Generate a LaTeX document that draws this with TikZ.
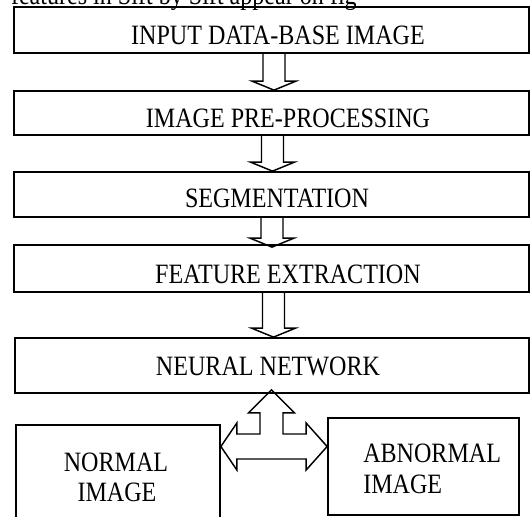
\documentclass[tikz,border=0pt]{standalone}
\usepackage{fontspec}
\setmainfont{Liberation Serif}[FakeStretch=0.86]
\usetikzlibrary{calc}
\newcommand\blockdown[4]{% #1 upper node, #2 lower node, #3 x coordinate, #4 tip offset below lower.north
  \draw[barrow] ($(#3|-#1.south)+(-11,0)$) -- ($(#3|-#2.north)+(-11,#4-9)$) -- ++(-11,0)
    -- ($(#3|-#2.north)+(0,#4)$) -- ($(#3|-#2.north)+(22,#4-9)$) -- ++(-11,0)
    -- ($(#3|-#1.south)+(11,0)$);}
\begin{document}
\begin{tikzpicture}[x=0.75pt,y=-0.75pt,
  box/.style={draw, line width=1.3pt, inner sep=0pt},
  lbl/.style={inner sep=0pt, font=\fontsize{21}{22.5}\selectfont},
  barrow/.style={draw, line width=1.1pt, line join=miter}]
\useasboundingbox (0,0) rectangle (530,516);
\clip (0,0) rectangle (530,516);
% cut-off line of text above the figure
\node[lbl, anchor=base east] (frag) at (357,5) {features in Sift by Sift appear on fig};
% boxes
\node[box, minimum width=386.25pt, minimum height=34.5pt] (b1) at (271.5,30) {};
\node[box, minimum width=386.25pt, minimum height=33pt] (b2) at (271.5,113) {};
\node[box, minimum width=386.25pt, minimum height=33.75pt] (b3) at (271.5,194.5) {};
\node[box, minimum width=386.25pt, minimum height=35.25pt] (b4) at (271.5,268.5) {};
\node[box, minimum width=385.5pt, minimum height=41.25pt] (nn) at (272,365.5) {};
\node[box, minimum width=153pt, minimum height=86.25pt] (nm) at (118,482.5) {};
\node[box, minimum width=143.25pt, minimum height=72.75pt] (ab) at (423.5,466.5) {};
% texts
\node[lbl, anchor=base] (t1) at (278,45) {INPUT DATA-BASE IMAGE};
\node[lbl, anchor=base] (t2) at (288,128) {IMAGE PRE-PROCESSING};
\node[lbl, anchor=base] (t3) at (277,208) {SEGMENTATION};
\node[lbl, anchor=base] (t4) at (288,283) {FEATURE EXTRACTION};
\node[lbl, anchor=base] (t5) at (268,375) {NEURAL NETWORK};
\node[lbl, anchor=base] (t6) at (116,471) {NORMAL};
\node[lbl, anchor=base] (t7) at (117,501) {IMAGE};
\node[lbl, anchor=base west] (t8) at (363,462) {ABNORMAL};
\node[lbl, anchor=base west] (t9) at (363,493) {IMAGE};
% down block arrows
\coordinate (x1) at (274,0);
\coordinate (x2) at (272.5,0);
\coordinate (x3) at (272,0);
\coordinate (x4) at (273.5,0);
\blockdown{b1}{b2}{x1}{0}
\blockdown{b2}{b3}{x2}{0}
\blockdown{b3}{b4}{x3}{3}
\blockdown{b4}{nn}{x4}{0}
% three-way block arrow
\coordinate (tx) at (271.5,0);
\coordinate (hy) at (0,446.5);
\draw[barrow] ($(tx|-nn.south)+(0,-4)$) coordinate (up)
  -- ($(up)+(23,23)$) -- ($(up)+(11.5,23)$) -- ($(up|-hy)+(11.5,-12.5)$)
  -- ($(ab.west|-hy)+(-21,-12.5)$) -- ++(0,-11) -- (ab.west|-hy)
  -- ($(ab.west|-hy)+(-21,23.5)$) -- ++(0,-11)
  -- ($(nm.east|-hy)+(16,12.5)$) -- ++(0,11) -- (nm.east|-hy)
  -- ($(nm.east|-hy)+(16,-23.5)$) -- ++(0,11)
  -- ($(up|-hy)+(-11.5,-12.5)$) -- ($(up)+(-11.5,23)$) -- ($(up)+(-23,23)$) -- cycle;
\end{tikzpicture}
\end{document}
